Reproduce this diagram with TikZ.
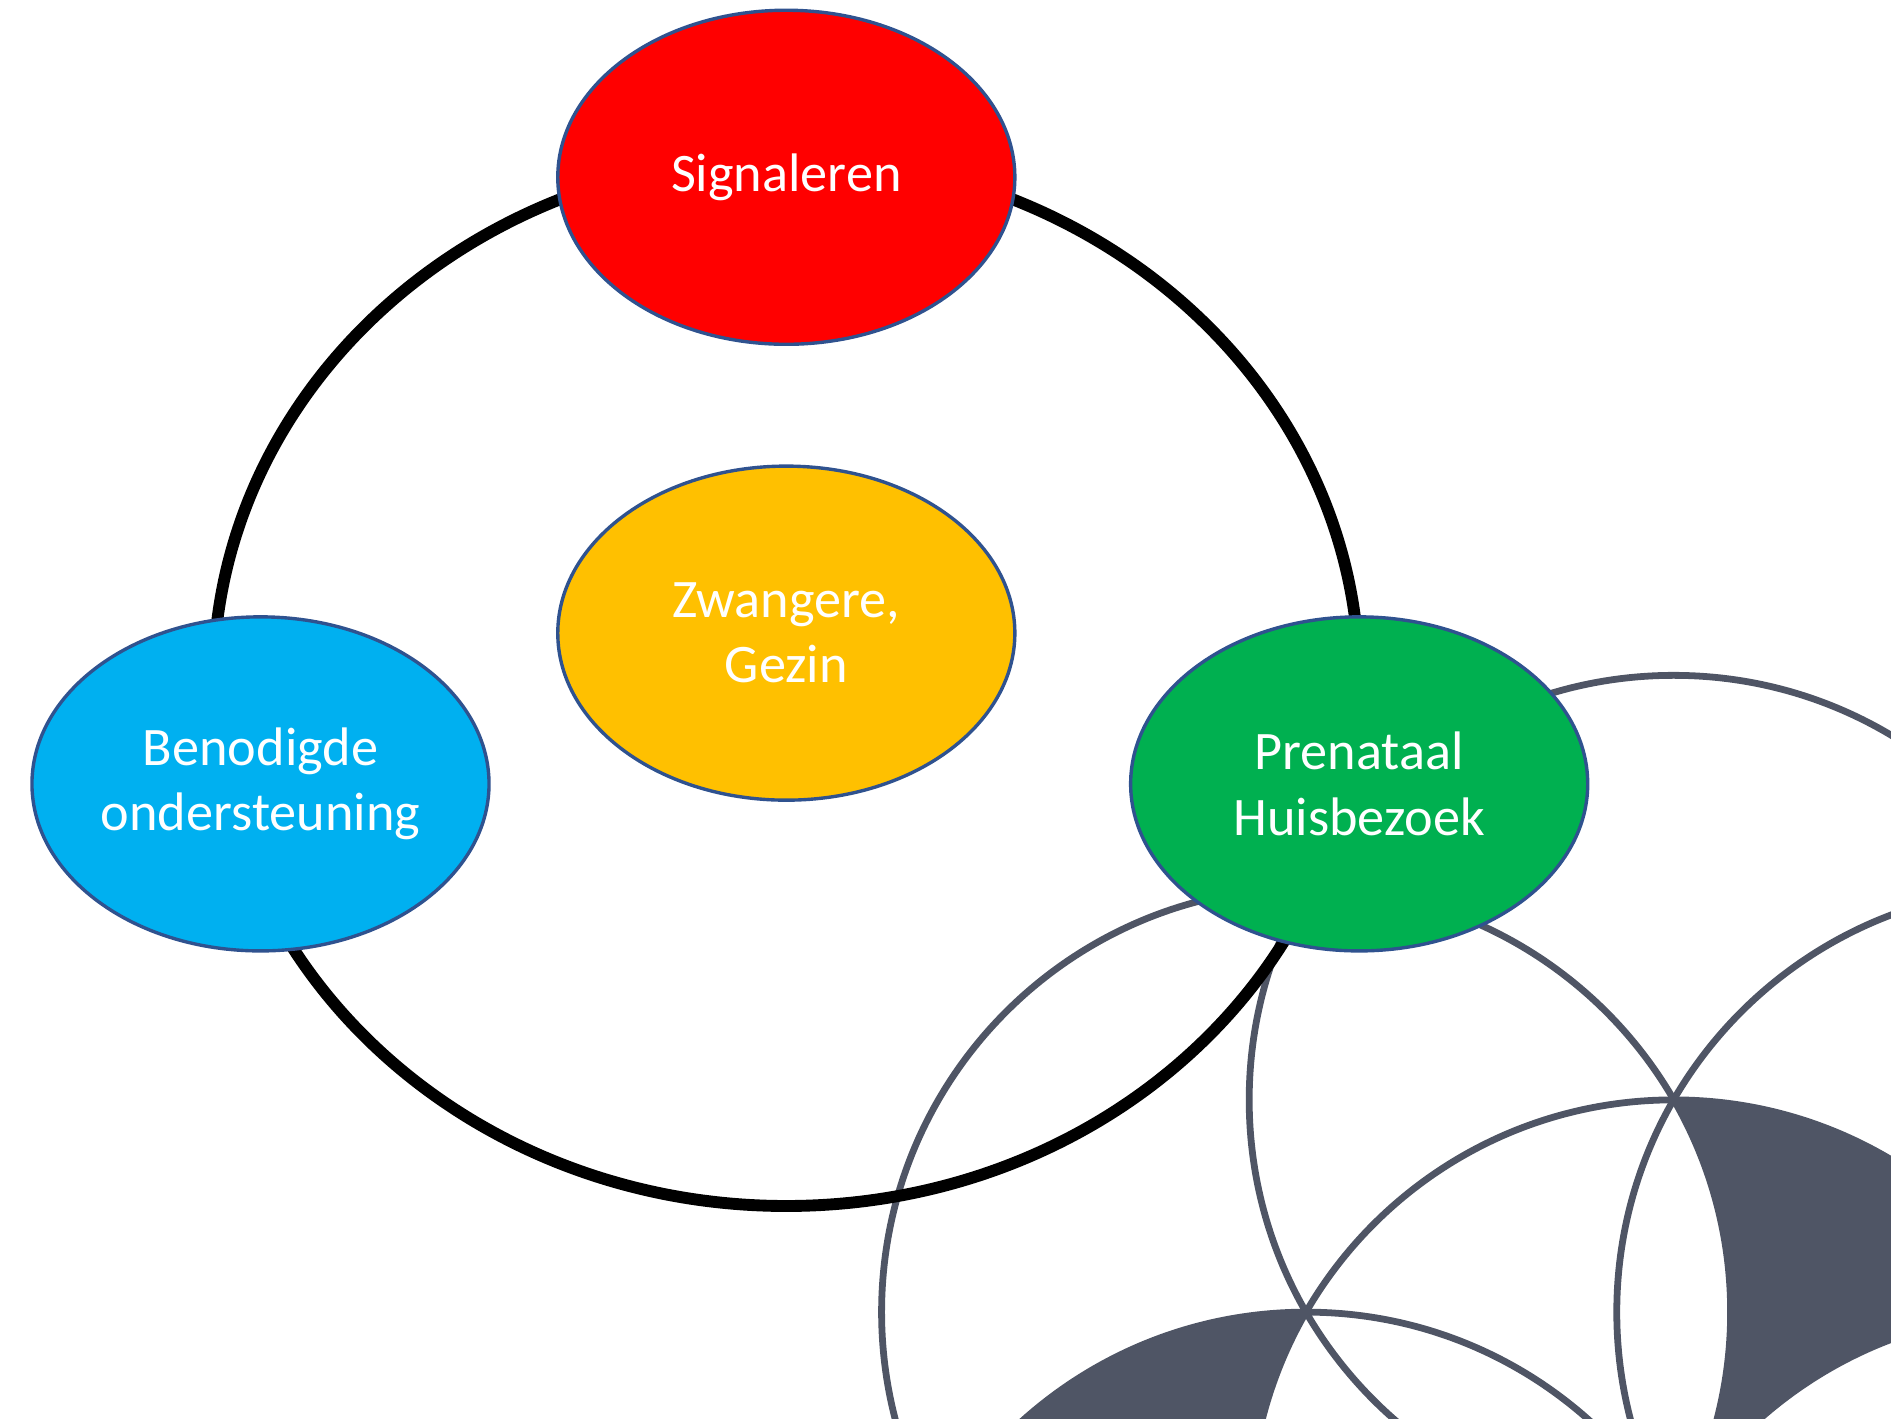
\documentclass[tikz,border=0pt]{standalone}
\usepackage{fontspec}
\setmainfont{Carlito}
\usepackage{xcolor}
\usepackage{tikz}
\usetikzlibrary{shapes.geometric}

\definecolor{rood}{HTML}{FF0000}
\definecolor{geel}{HTML}{FFC000}
\definecolor{blauw}{HTML}{00B0F0}
\definecolor{groen}{HTML}{00B050}
\definecolor{rand}{HTML}{2F528F}
\definecolor{leisteen}{HTML}{4F5565}

\begin{document}
\begin{tikzpicture}[
    fase/.style={ellipse, draw=rand, line width=0.8pt, minimum width=3.79cm, minimum height=2.77cm, inner sep=0pt, text=white, align=center, font=\fontsize{12.8}{15.4}\selectfont},
    cirkel/.style={draw=leisteen, line width=1.6pt}
  ]
    \useasboundingbox (0,0) rectangle (15.68,-11.76);
    % decorative circle pattern, bottom right
    \begin{scope}
      \clip (0,0) rectangle (15.68,-11.76);
      \fill[leisteen] (13.878,-9.12) arc[start angle=90, end angle=30, radius=3.52]
        arc[start angle=90, end angle=150, radius=3.52]
        arc[start angle=-30, end angle=30, radius=3.52] -- cycle;
      \fill[leisteen] (10.83,-10.88) arc[start angle=90, end angle=150, radius=3.52]
        arc[start angle=90, end angle=30, radius=3.52]
        arc[start angle=210, end angle=150, radius=3.52] -- cycle;
      \foreach \cx/\cy in {13.878/-9.12, 10.83/-10.88, 16.926/-10.88, 13.878/-12.64, 10.83/-14.40, 16.926/-14.40}
        \draw[cirkel] (\cx,\cy) circle[radius=3.52];
    \end{scope}

    % cycle
    \draw[line width=2.8pt] (6.52,-5.65) ellipse [x radius=4.75, y radius=4.35];

    \node[fase, fill=rood] (signaleren) at (6.52,-1.47) {Signaleren};
    \node[fase, fill=geel] (gezin) at (6.52,-5.25) {Zwangere,\\Gezin};
    \node[fase, fill=blauw] (ondersteuning) at (2.16,-6.50) {Benodigde\\ondersteuning};
    \node[fase, fill=groen] (huisbezoek) at (11.27,-6.50) {Prenataal\\Huisbezoek};
  \end{tikzpicture}
\end{document}
